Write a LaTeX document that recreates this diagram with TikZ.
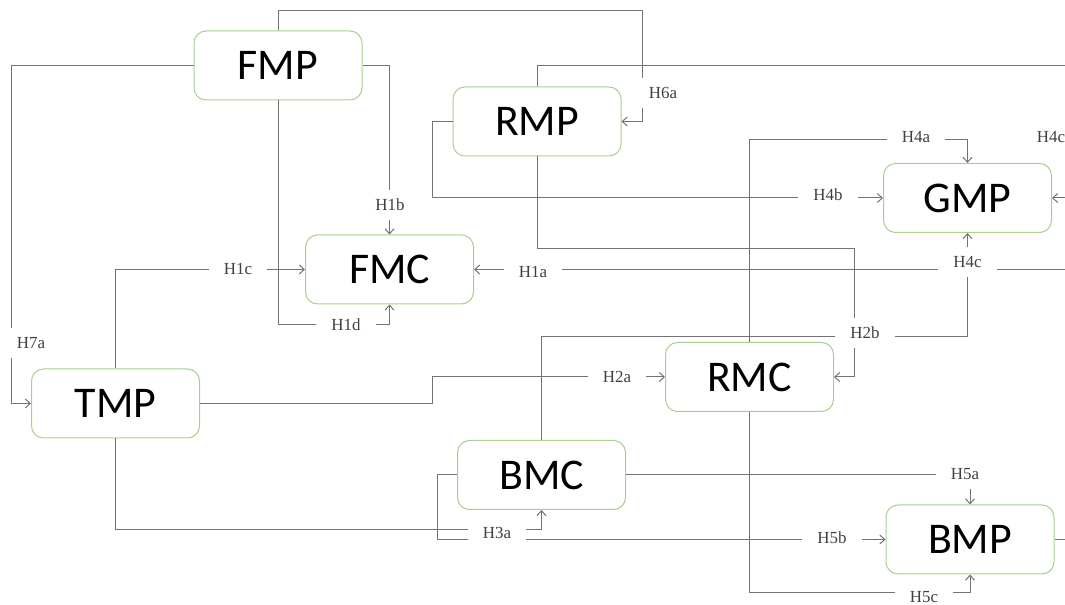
\documentclass[tikz,border=0pt]{standalone}
\usepackage{fontspec}
\setmainfont{Liberation Serif}
\newfontfamily\boxfont{Carlito}
\usetikzlibrary{arrows.meta}
\definecolor{boxcol}{rgb}{0.66,0.82,0.56}
\definecolor{edgecol}{rgb}{0.45,0.45,0.45}
\definecolor{labelcol}{rgb}{0.25,0.25,0.25}

\begin{document}
\begin{tikzpicture}[>={Straight Barb[length=5bp,width=9bp]},line join=bevel,
  module/.style={draw=boxcol,fill=white,rounded corners=12bp,minimum width=168bp,minimum height=69bp,inner sep=0pt,font=\boxfont\fontsize{44}{48}\selectfont},
  wire/.style={draw=edgecol,line width=1bp},
  tag/.style={fill=white,text=labelcol,inner xsep=15bp,inner ysep=9bp,font=\fontsize{17}{20}\selectfont}]
  \pgfsetlinewidth{1bp}
  \useasboundingbox (0bp,0bp) rectangle (1065bp,605bp);
  \clip (0bp,0bp) rectangle (1065bp,605bp);
%%
  % Node: fmp
  \node[module] (fmp) at (278bp,539.5bp) {FMP};
  % Node: rmp
  \node[module] (rmp) at (537bp,483.5bp) {RMP};
  % Node: gmp
  \node[module] (gmp) at (967.5bp,407bp) {GMP};
  % Node: fmc
  \node[module] (fmc) at (389.5bp,335.5bp) {FMC};
  % Node: tmp
  \node[module] (tmp) at (115.5bp,201.5bp) {TMP};
  % Node: rmc
  \node[module] (rmc) at (749.5bp,228bp) {RMC};
  % Node: bmc
  \node[module] (bmc) at (541.5bp,130bp) {BMC};
  % Node: bmp
  \node[module] (bmp) at (970bp,65.5bp) {BMP};
%%
  % Edge: fmp -> rmp
  \draw[wire,->] (fmp.north) |- (642bp,594bp) |- (rmp.east) node[tag] at (663bp,512bp) {H6a};
  % Edge: fmp -> tmp
  \draw[wire,->] (fmp.west) -| (11bp,201.5bp) -- (tmp.west) node[tag] at (31bp,262bp) {H7a};
  % Edge: fmp -> fmc
  \draw[wire,->] (fmp.east) -| (fmc.north) node[tag] at (390bp,400bp) {H1b};
  % Edge: fmp -> fmc
  \draw[wire,->] (fmp.south) |- (389.5bp,280bp) -- (fmc.south) node[tag] at (346bp,280bp) {H1d};
  % Edge: tmp -> fmc
  \draw[wire,->] (tmp.north) |- (fmc.west) node[tag] at (238bp,336bp) {H1c};
  % Edge: bmp -> fmc
  \draw[wire,->] (bmp.east) -- (1080bp,65.5bp) |- (fmc.east) node[tag] at (533bp,333bp) {H1a};
  % Edge: bmc -> gmp
  \draw[wire,->] (bmc.north) |- (967.5bp,268bp) -- (gmp.south) node[tag] at (967.5bp,343bp) {H4c};
  % Edge: rmp -> rmc
  \draw[wire,->] (rmp.south) |- (854bp,356bp) |- (rmc.east) node[tag] at (865bp,272bp) {H2b};
  % Edge: tmp -> rmc
  \draw[wire,->] (tmp.east) -- (432bp,201.5bp) |- (rmc.west) node[tag] at (617bp,228bp) {H2a};
  % Edge: bmc -> bmp
  \draw[wire,->] (bmc.west) -- (437bp,130bp) |- (bmp.west) node[tag] at (832bp,67bp) {H5b};
  % Edge: tmp -> bmc
  \draw[wire,->] (tmp.south) |- (541.5bp,75bp) -- (bmc.south) node[tag] at (497bp,72bp) {H3a};
  % Edge: bmc -> bmp
  \draw[wire,->] (bmc.east) -| (bmp.north) node[tag] at (965bp,131bp) {H5a};
  % Edge: rmc -> gmp
  \draw[wire,->] (rmc.north) |- (967.5bp,465bp) -- (gmp.north) node[tag] at (916bp,468bp) {H4a};
  % Edge: rmc -> bmp
  \draw[wire,->] (rmc.south) |- (970bp,12bp) -- (bmp.south) node[tag] at (924bp,8bp) {H5c};
  % Edge: rmp -> gmp
  \draw[wire,->] (rmp.west) -- (432bp,483.5bp) |- (gmp.west) node[tag] at (828bp,410bp) {H4b};
  % Edge: rmp -> gmp
  \draw[wire,->] (rmp.north) |- (1080bp,539bp) |- (gmp.east) node[tag] at (1051bp,468bp) {H4c};
%
\end{tikzpicture}
\end{document}
